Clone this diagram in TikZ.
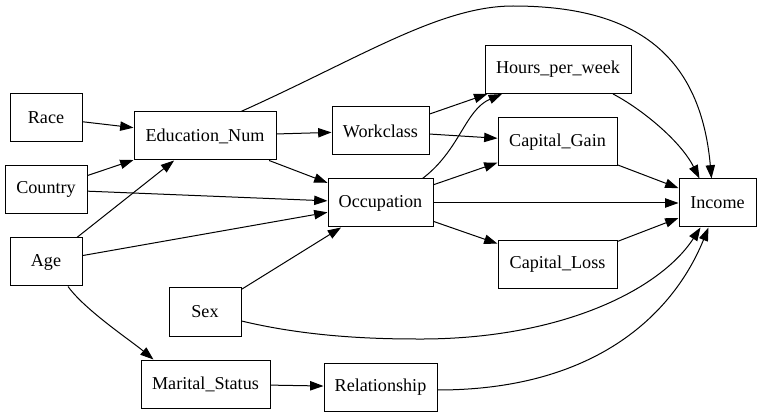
\documentclass[tikz,border=0pt]{standalone}
\usepackage{fontspec}
\newfontfamily\gvfont{Liberation Serif}
\usetikzlibrary{arrows.meta,calc}
\begin{document}
\begin{tikzpicture}[x=0.75pt,y=-0.75pt,
  box/.style={draw=black,line width=0.75pt,rectangle,inner sep=0pt,minimum height=36pt,
    font=\gvfont\fontsize{13.6}{16}\selectfont},
  edge/.style={line width=0.75pt,-{Triangle[length=10pt,width=7pt]}}]
\useasboundingbox (0,0) rectangle (761,417);
\node[box,minimum width=54pt]    (race)    at (46,117.5) {Race};
\node[box,minimum width=106.5pt] (edu)     at (205,136) {Education\_Num};
\node[box,minimum width=61.5pt]  (country) at (46,189.5) {Country};
\node[box,minimum width=54pt]    (age)     at (46,262) {Age};
\node[box,minimum width=72.75pt] (work)    at (380.5,131) {Workclass};
\node[box,minimum width=78.75pt] (occ)     at (380.5,203) {Occupation};
\node[box,minimum width=109.5pt] (hours)   at (558,69.5) {Hours\_per\_week};
\node[box,minimum width=89.25pt] (gain)    at (557.5,142) {Capital\_Gain};
\node[box,minimum width=89.25pt] (loss)    at (557.5,264.5) {Capital\_Loss};
\node[box,minimum width=57.75pt] (income)  at (717.5,203) {Income};
\node[box,minimum width=54pt]    (sex)     at (205,312) {Sex};
\node[box,minimum width=96.75pt] (marital) at (205.5,384) {Marital\_Status};
\node[box,minimum width=84.75pt] (rel)     at (380.5,387) {Relationship};

\draw[edge] (race) -- (edu);
\draw[edge] (country) -- (edu);
\draw[edge] (age) -- (edu);
\draw[edge] (country) -- (occ);
\draw[edge] (age) -- (occ);
\draw[edge] (edu) -- (work);
\draw[edge] (edu) -- (occ);
\draw[edge] (sex) -- (occ);
\draw[edge] (work) -- (hours);
\draw[edge] (work) -- (gain);
\draw[edge] (occ) -- (gain);
\draw[edge] (occ) -- (income);
\draw[edge] (occ) -- (loss);
\draw[edge] (gain) -- (income);
\draw[edge] (loss) -- (income);
\draw[edge] (marital) -- (rel);

\draw[edge] ($(edu.north)+(36,0)$) .. controls (360,58) and (440,6) .. (513,6)
  .. controls (630,6) and (700,50) .. ($(income.north)+(-6,0)$);
\draw[edge] ($(hours.south)+(55,0)$) .. controls (640,108) and (680,140) .. ($(income.north)+(-18,0)$);
\draw[edge] ($(occ.north)+(42,0)$) .. controls (460,150) and (465,110) .. ($(hours.south)+(-56,0)$);
\draw[edge] ($(age.south)+(22,0)$) .. controls (85,310) and (130,340) .. ($(marital.north)+(-52,0)$);
\draw[edge] ($(sex.east)+(0,9)$) .. controls (300,335) and (360,339) .. (416,339)
  .. controls (560,340) and (660,290) .. ($(income.south)+(-17,0)$);
\draw[edge] ($(rel.east)+(0,3)$) .. controls (600,390) and (675,310) .. ($(income.south)+(-9,0)$);
\end{tikzpicture}
\end{document}
